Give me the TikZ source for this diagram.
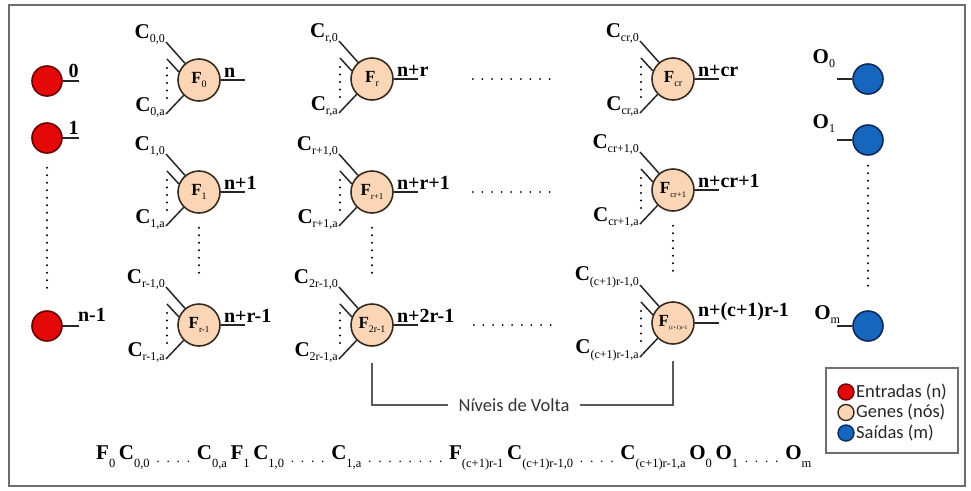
\documentclass[tikz,border=0pt]{standalone}
\usepackage{fontspec}
\setmainfont{Liberation Serif}
\newfontfamily\sansf{Carlito}
\definecolor{genef}{RGB}{250,214,182}
\definecolor{geneb}{RGB}{55,42,32}
\definecolor{inf}{RGB}{228,8,8}
\definecolor{inb}{RGB}{105,0,0}
\definecolor{outf}{RGB}{22,102,190}
\definecolor{outb}{RGB}{12,42,90}
\definecolor{frm}{RGB}{110,110,110}
\definecolor{brk}{RGB}{90,90,90}
\newcommand\Cs[2][C]{\textbf{#1}\raisebox{-4.5pt}{\fontsize{12}{12}\selectfont#2}}
\newcommand\Fl[2][10]{\textbf{F}\raisebox{-3.5pt}{\fontsize{#1}{#1}\selectfont#2}}
\newcommand\Sq[2]{\textbf{#1}\raisebox{-8pt}{\fontsize{12.5}{12.5}\selectfont#2}}
\newcommand\Dq[1]{{\fontsize{13.5}{13.5}\selectfont\raisebox{-3pt}{#1}}}
\newcommand\dsp{\hspace{3.6pt}}
\newcommand\gene[7]{%
  \node[gene] (#1) at (#2,#3) {#4};
  \path (#1.center) ++(-33,-38) coordinate (#1-t)
        (#1.center) ++(-32,-21) coordinate (#1-s)
        (#1.center) ++(-32,-12) coordinate (#1-d1)
        (#1.center) ++(-32,21) coordinate (#1-d2)
        (#1.center) ++(-33,34) coordinate (#1-b)
        (#1.east) ++(24,0) coordinate (#1-o);
  \draw[wire] (#1.130) -- (#1-t);
  \draw[wire] (#1.158) -- (#1-s);
  \draw[vdots] (#1-d1) -- (#1-d2);
  \draw[wire] (#1.225) -- (#1-b);
  \draw[wire] (#1.east) -- (#1-o);
  \node[clab, anchor=south east] (#1-tl) at ([shift={(-1pt,-3pt)}]#1-t) {\Cs{#5}};
  \node[clab, anchor=south east] (#1-bl) at ([shift={(-1pt,-4pt)}]#1-b) {\Cs{#6}};
  \node[olab, anchor=south west] (#1-ol) at ([shift={(3pt,2pt)}]#1.east) {#7};
}
\begin{document}
\begin{tikzpicture}[x=1pt,y=-1pt,
  wire/.style={line width=1.5pt, draw=black!85},
  vdots/.style={line width=2.2pt, dash pattern=on 0pt off 7.5pt, line cap=round},
  hdots/.style={line width=2pt, dash pattern=on 0pt off 9.6pt, line cap=round},
  gene/.style={circle, draw=geneb, fill=genef, line width=1.6pt, minimum size=42pt, inner sep=0pt, font=\fontsize{17}{17}\selectfont},
  inp/.style={circle, draw=inb, fill=inf, line width=1.6pt, minimum size=30pt, inner sep=0pt},
  outp/.style={circle, draw=outb, fill=outf, line width=1.6pt, minimum size=30pt, inner sep=0pt},
  clab/.style={inner sep=0pt, font=\fontsize{21}{21}\selectfont},
  olab/.style={inner sep=0pt, font=\fontsize{20}{20}\selectfont\bfseries},
  legc/.style={circle, line width=1.4pt, minimum size=16pt, inner sep=0pt},
  legt/.style={anchor=west, inner sep=0pt, font=\sansf\fontsize{18.5}{19}\selectfont, text=black!85},
  brkline/.style={line width=1.2pt, draw=brk},
]
\useasboundingbox (0,0) rectangle (971,490);
\draw[line width=2pt, draw=frm] (9,5) rectangle (965,486);

% inputs
\node[inp] (i0) at (47,81) {};
\node[inp] (i1) at (47,138) {};
\node[inp] (in) at (47,326) {};
\draw[wire] (i0.east) -- ++(16,0) coordinate (i0-o);
\draw[wire] (i1.east) -- ++(16,0) coordinate (i1-o);
\draw[wire] (in.east) -- ++(16,0) coordinate (in-o);
\node[olab, anchor=south east] (i0l) at ([shift={(0pt,3pt)}]i0-o) {0};
\node[olab, anchor=south east] (i1l) at ([shift={(0pt,3pt)}]i1-o) {1};
\node[olab, anchor=south west] (inl) at ([shift={(-1pt,4pt)}]in-o) {n-1};
\draw[vdots] ([yshift=-14pt]i1.south) -- ([yshift=20pt]in.north);

% genes
\gene{g11}{199}{80}{\Fl{0}}{0,0}{0,a}{n}
\gene{g12}{199}{192}{\Fl{1}}{1,0}{1,a}{n+1}
\gene{g13}{199}{325}{\Fl[9]{r-1}}{r-1,0}{r-1,a}{n+r-1}
\gene{g21}{372}{79}{\Fl{r}}{r,0}{r,a}{n+r}
\gene{g22}{372}{192}{\Fl[9]{r+1}}{r+1,0}{r+1,a}{n+r+1}
\gene{g23}{372}{325}{\Fl[10]{2r-1}}{2r-1,0}{2r-1,a}{n+2r-1}
\gene{g31}{673}{79}{\Fl[10]{cr}}{cr,0}{cr,a}{n+cr}
\gene{g32}{673}{190}{\Fl[8.5]{cr+1}}{cr+1,0}{cr+1,a}{n+cr+1}
\gene{g33}{673}{323}{\Fl[5.5]{(c+1)r-1}}{(c+1)r-1,0}{(c+1)r-1,a}{n+(c+1)r-1}

% vertical ellipses in gene columns
\draw[vdots] ([yshift=-14pt]g12.south) -- ([yshift=26pt]g13.north);
\draw[vdots] ([yshift=-14pt]g22.south) -- ([yshift=26pt]g23.north);
\draw[vdots] ([yshift=-14pt]g32.south) -- ([yshift=26pt]g33.north);
% horizontal ellipses
\draw[hdots] ([xshift=79pt]g21.east) -- ([xshift=-100pt]g31.west);
\draw[hdots] ([xshift=79pt]g22.east) -- ([xshift=-100pt]g32.west |- g22.east);
\draw[hdots] ([xshift=80pt]g23.east) -- ([xshift=-100pt]g33.west |- g23.east);

% outputs
\node[outp] (o0) at (868,79) {};
\node[outp] (o1) at (868,140) {};
\node[outp] (om) at (868,326) {};
\draw[wire] (o0.west) -- ++(-15,0) coordinate (o0-i);
\draw[wire] (o1.west) -- ++(-15,0) coordinate (o1-i);
\draw[wire] (om.west) -- ++(-15,0) coordinate (om-i);
\node[clab, anchor=south east] (o0l) at ([shift={(-2pt,11pt)}]o0-i) {\Cs[O]{0}};
\node[clab, anchor=south east] (o1l) at ([shift={(-2pt,7pt)}]o1-i) {\Cs[O]{1}};
\node[clab, anchor=south east] (oml) at ([shift={(3pt,2pt)}]om-i) {\Cs[O]{m}};
\draw[vdots] ([yshift=-10pt]o1.south) -- ([yshift=18pt]om.north);

% Niveis de Volta
\node[inner sep=2pt, font=\sansf\fontsize{18.5}{19}\selectfont, text=black!80] (nv) at (514,405) {Níveis de Volta};
\draw[brkline] ([yshift=-16pt]g23.south) |- ([xshift=-8pt]nv.west);
\draw[brkline] ([yshift=-16pt]g33.south) |- ([xshift=8pt]nv.east);

% sequence
\node[inner sep=0pt, font=\fontsize{21}{21}\selectfont, anchor=west] (seq) at (96,458) {%
\Sq{F}{0}\dsp\Sq{C}{0,0}\Dq{\enspace.\enspace.\enspace.\enspace.\enspace}\Sq{C}{0,a}\dsp\Sq{F}{1}\dsp\Sq{C}{1,0}\Dq{\enspace.\enspace.\enspace.\enspace.\enspace}\Sq{C}{1,a}\Dq{\enspace.\enspace.\enspace.\enspace.\enspace.\enspace.\enspace.\enspace.\enspace}\Sq{F}{(c+1)r-1}\dsp\Sq{C}{(c+1)r-1,0}\Dq{\enspace.\enspace.\enspace.\enspace.\enspace}\Sq{C}{(c+1)r-1,a}\dsp\Sq{O}{0}\dsp\Sq{O}{1}\Dq{\enspace.\enspace.\enspace.\enspace.\enspace}\Sq{O}{m}};

% legend
\node[draw=frm, line width=1.4pt, minimum width=132pt, minimum height=85pt, inner sep=0pt] (leg) at (892,410.5) {};
\node[legc, draw=inb, fill=inf] (l1) at (846,392) {};
\node[legc, draw=geneb, fill=genef] (l2) at (846,412.5) {};
\node[legc, draw=outb, fill=outf] (l3) at (846,433) {};
\node[legt] (t1) at (856,392) {Entradas (n)};
\node[legt] (t2) at (856,412.5) {Genes (nós)};
\node[legt] (t3) at (856,433) {Saídas (m)};
\end{tikzpicture}
\end{document}
